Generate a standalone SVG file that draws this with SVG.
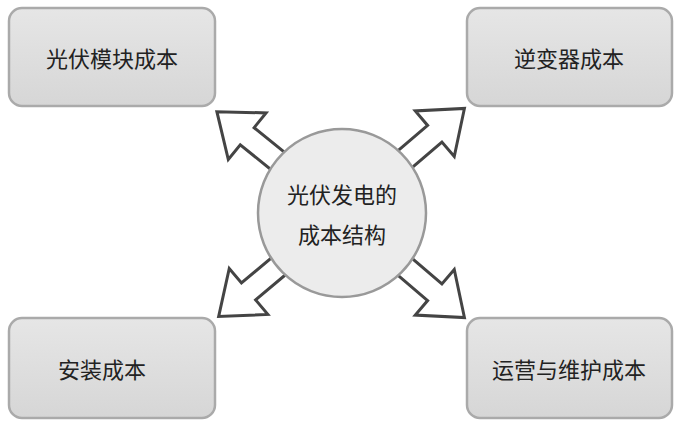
<svg xmlns="http://www.w3.org/2000/svg" width="684" height="426" viewBox="0 0 684 426">
<defs>
<linearGradient id="g" x1="0" y1="0" x2="0" y2="1"><stop offset="0" stop-color="#e6e6e6"/><stop offset="1" stop-color="#d6d6d6"/></linearGradient>
<polygon id="arr" points="60,-11 122,-11 122,-30 161,0 122,30 122,11 60,11" fill="#fff" stroke="#444" stroke-width="3" stroke-linejoin="miter"/>
</defs>
<style>
.box{fill:url(#g);stroke:#aaa;stroke-width:2.5}
text{font-family:"Noto Sans CJK SC",sans-serif;font-size:22px;fill:#222;text-anchor:middle;dominant-baseline:central}
</style>
<rect width="684" height="426" fill="#fff"/>
<g id="connectors">
<use href="#arr" transform="translate(342,213) rotate(-141)"/>
<use href="#arr" transform="translate(342,213) rotate(-40.5)"/>
<use href="#arr" transform="translate(342,213) rotate(140)"/>
<use href="#arr" transform="translate(342,213) rotate(40.5)"/>
</g>
<g id="center"><circle cx="342" cy="213" r="84" fill="#ececec" stroke="#999" stroke-width="2.5"/>
<text x="342" y="193">光伏发电的</text><text x="342" y="233">成本结构</text></g>
<g id="n1"><rect class="box" x="9" y="8" width="206" height="98" rx="13"/><text x="112" y="57">光伏模块成本</text></g>
<g id="n2"><rect class="box" x="467" y="8" width="205" height="98" rx="13"/><text x="569" y="57">逆变器成本</text></g>
<g id="n3"><rect class="box" x="9" y="318" width="206" height="100" rx="13"/><text x="102" y="368">安装成本</text></g>
<g id="n4"><rect class="box" x="467" y="318" width="205" height="100" rx="13"/><text x="569" y="368">运营与维护成本</text></g>
</svg>
